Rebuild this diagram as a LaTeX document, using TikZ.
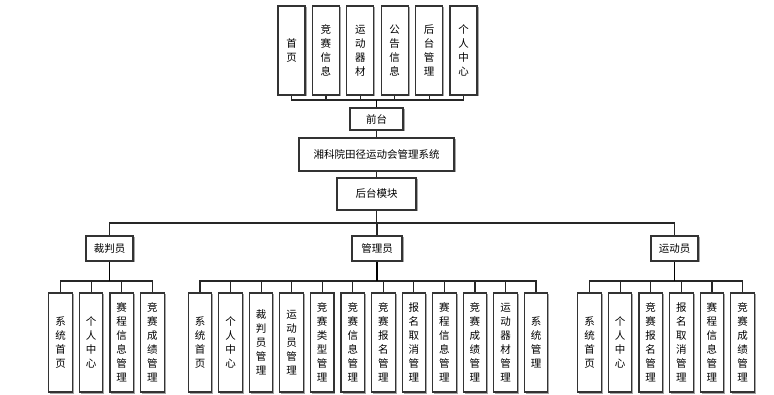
\documentclass[tikz,border=0pt]{standalone}
\usepackage{fontspec}
\setmainfont{Noto Sans CJK SC}
\usetikzlibrary{shadows}
\begin{document}
\begin{tikzpicture}[x=1pt,y=-1pt,
  box/.style={draw=black!80,line width=1.1pt,fill=white,inner sep=0pt,
    drop shadow={shadow xshift=1.5pt,shadow yshift=-1.5pt,fill=black!35,opacity=1},
    font=\fontsize{10.5}{14}\selectfont,align=center},
  vbox/.style={box,minimum width=23.5,minimum height=99},
  tbox/.style={box,minimum width=27,minimum height=89},
  conn/.style={draw=black!85,line width=1.2pt},
  stem/.style={draw=black,line width=1.8pt}]
\useasboundingbox (0,0) rectangle (774,395);
% bus levels
\coordinate (busTop) at (0,100);
\coordinate (busMid) at (0,223);
\coordinate (busLow) at (0,281);
% top row
\node[tbox] (t1) at (291.5,50.5) {首\\页};
\node[tbox] (t2) at (325.9,50.5) {竞\\赛\\信\\息};
\node[tbox] (t3) at (360.3,50.5) {运\\动\\器\\材};
\node[tbox] (t4) at (394.7,50.5) {公\\告\\信\\息};
\node[tbox] (t5) at (429.1,50.5) {后\\台\\管\\理};
\node[tbox] (t6) at (463.5,50.5) {个\\人\\中\\心};
\node[box,minimum width=53,minimum height=22] (qt) at (376.5,119) {前台};
\node[box,minimum width=155,minimum height=33] (sys) at (376.5,154.5) {湘科院田径运动会管理系统};
\node[box,minimum width=79,minimum height=32] (ht) at (376.5,194) {后台模块};
% second level
\node[box,minimum width=47,minimum height=25] (cp) at (109.5,248.5) {裁判员};
\node[box,minimum width=50,minimum height=25] (gl) at (377,248.5) {管理员};
\node[box,minimum width=47,minimum height=25] (yd) at (674.5,248.5) {运动员};
% judges
\node[vbox] (c1) at (60.5,342.5) {系\\统\\首\\页};
\node[vbox] (c2) at (91.1,342.5) {个\\人\\中\\心};
\node[vbox] (c3) at (121.7,342.5) {赛\\程\\信\\息\\管\\理};
\node[vbox] (c4) at (152.3,342.5) {竞\\赛\\成\\绩\\管\\理};
% managers
\node[vbox] (g1) at (200,342.5) {系\\统\\首\\页};
\node[vbox] (g2) at (230.55,342.5) {个\\人\\中\\心};
\node[vbox] (g3) at (261.1,342.5) {裁\\判\\员\\管\\理};
\node[vbox] (g4) at (291.65,342.5) {运\\动\\员\\管\\理};
\node[vbox] (g5) at (322.2,342.5) {竞\\赛\\类\\型\\管\\理};
\node[vbox] (g6) at (352.75,342.5) {竞\\赛\\信\\息\\管\\理};
\node[vbox] (g7) at (383.3,342.5) {竞\\赛\\报\\名\\管\\理};
\node[vbox] (g8) at (413.85,342.5) {报\\名\\取\\消\\管\\理};
\node[vbox] (g9) at (444.4,342.5) {赛\\程\\信\\息\\管\\理};
\node[vbox] (g10) at (474.95,342.5) {竞\\赛\\成\\绩\\管\\理};
\node[vbox] (g11) at (505.5,342.5) {运\\动\\器\\材\\管\\理};
\node[vbox] (g12) at (536,342.5) {系\\统\\管\\理};
% athletes
\node[vbox] (a1) at (589.5,342.5) {系\\统\\首\\页};
\node[vbox] (a2) at (620.1,342.5) {个\\人\\中\\心};
\node[vbox] (a3) at (650.7,342.5) {竞\\赛\\报\\名\\管\\理};
\node[vbox] (a4) at (681.3,342.5) {报\\名\\取\\消\\管\\理};
\node[vbox] (a5) at (711.9,342.5) {赛\\程\\信\\息\\管\\理};
\node[vbox] (a6) at (742.5,342.5) {竞\\赛\\成\\绩\\管\\理};
% connectors
\foreach \n in {t1,t2,t3,t4,t5,t6}
  \draw[conn] (qt.north |- busTop) -| (\n.south);
\draw[stem] (qt.north) -- (qt.north |- busTop);
\draw[conn] (qt.south) -- (sys.north);
\draw[conn] (sys.south) -- (ht.north);
\foreach \n in {cp,gl,yd}
  \draw[conn] (ht.south) -- (ht.south |- busMid) -| (\n.north);
\foreach \n in {c1,c2,c3,c4}
  \draw[conn] (cp.south |- busLow) -| (\n.north);
\draw[stem] (cp.south) -- (cp.south |- busLow);
\foreach \n in {g1,g2,g3,g4,g5,g6,g7,g8,g9,g10,g11,g12}
  \draw[conn] (gl.south |- busLow) -| (\n.north);
\draw[stem] (gl.south) -- (gl.south |- busLow);
\foreach \n in {a1,a2,a3,a4,a5,a6}
  \draw[conn] (yd.south |- busLow) -| (\n.north);
\draw[stem] (yd.south) -- (yd.south |- busLow);
\end{tikzpicture}
\end{document}
